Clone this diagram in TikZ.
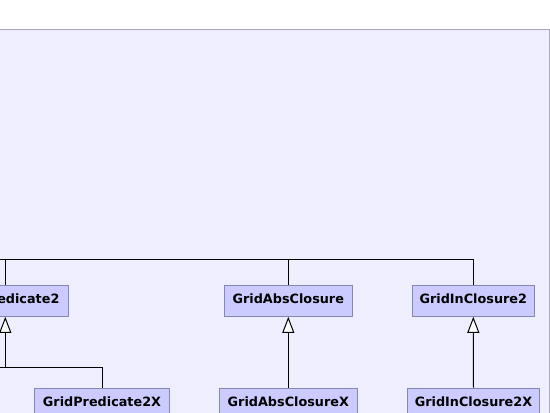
\documentclass[tikz,border=0pt]{standalone}
\usepackage{fontspec}
\newfontfamily\boxfont{DejaVu Sans}
\usetikzlibrary{arrows.meta}
\definecolor{panelfill}{HTML}{EEEEFF}
\definecolor{paneldraw}{HTML}{A6A6B6}
\definecolor{boxfill}{HTML}{CBCBFF}
\definecolor{boxdraw}{HTML}{8686B2}
\tikzset{
  cls/.style={draw=boxdraw, fill=boxfill, line width=1pt, minimum height=31pt,
    inner sep=0pt, text height=8pt, text depth=3pt,
    font=\boxfont\bfseries\fontsize{12.8}{15}\selectfont, text=black},
  conn/.style={draw=black, line width=1pt},
  inh/.style={conn, -{Triangle[open, length=16pt, width=12pt, fill=white]}}
}
\begin{document}
\begin{tikzpicture}[x=1pt,y=-1pt]
\useasboundingbox (0,0) rectangle (550,413);
\clip (0,0) rectangle (550,413);
\fill[white] (0,0) rectangle (550,413);
\draw[draw=paneldraw, fill=panelfill, line width=1pt] (-20,29.5) rectangle (549,440);
% classes
\node[cls, minimum width=126pt] (pred2) at (5.3,300.8) {GridPredicate2};
\node[cls, minimum width=128pt] (abs) at (288.3,300.8) {GridAbsClosure};
\node[cls, minimum width=122pt] (in2) at (473.3,300.8) {GridInClosure2};
\node[cls, minimum width=135.4pt] (pred2x) at (102,403.5) {GridPredicate2X};
\node[cls, minimum width=138pt] (absx) at (288.3,403.5) {GridAbsClosureX};
\node[cls, minimum width=131.6pt] (in2x) at (473.5,403.5) {GridInClosure2X};
% top bus
\coordinate (bus) at (-20,259.3);
\coordinate (mid) at (-20,367.3);
\draw[conn] (bus) -- (in2.north |- bus) -- (in2.north);
\draw[conn] (pred2.north |- bus) -- (pred2.north);
\draw[conn] (abs.north |- bus) -- (abs.north);
% inheritance
\draw[conn] (mid) -- (pred2.south |- mid);
\draw[inh] (pred2x.north) -- (pred2x.north |- mid) -- (pred2.south |- mid) -- (pred2.south);
\draw[inh] (absx.north) -- (abs.south);
\draw[inh] (in2x.north) -- (in2.south);
\end{tikzpicture}
\end{document}
